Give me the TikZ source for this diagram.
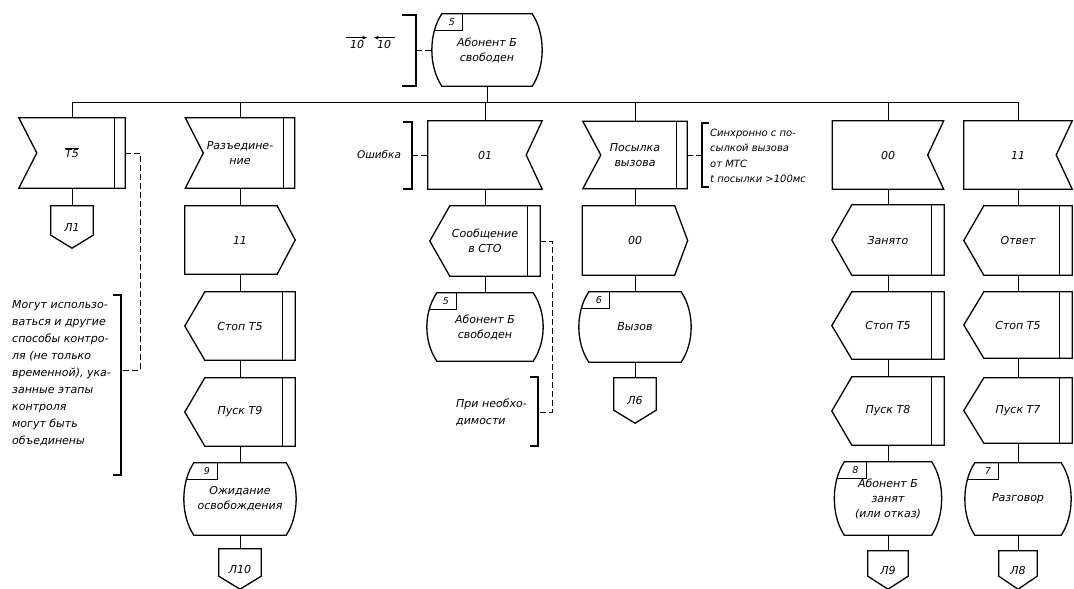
\documentclass[tikz,border=0pt]{standalone}
\usepackage{fontspec}
\setmainfont{DejaVu Sans}
\usetikzlibrary{calc,arrows.meta}
\newcommand\InL[1]{\draw[shp] (#1.north west) -- (#1.north east) -- (#1.south east) -- (#1.south west) -- ($(#1.west)+(18,0)$) -- cycle;
 \draw[shp] ($(#1.north east)+(-11,0)$) -- ($(#1.south east)+(-11,0)$);}
\newcommand\InR[1]{\draw[shp] (#1.north west) -- (#1.north east) -- ($(#1.east)+(-16,0)$) -- (#1.south east) -- (#1.south west) -- cycle;}
\newcommand\OutR[2]{\draw[shp] (#2.north west) -- ($(#2.north east)+(-#1,0)$) -- (#2.east) -- ($(#2.south east)+(-#1,0)$) -- (#2.south west) -- cycle;}
\newcommand\OutL[1]{\draw[shp] (#1.west) -- ($(#1.north west)+(20,0)$) -- (#1.north east) -- (#1.south east) -- ($(#1.south west)+(20,0)$) -- cycle;
 \draw[shp] ($(#1.north east)+(-13,0)$) -- ($(#1.south east)+(-13,0)$);}
\newcommand\StatePath[1]{($(#1.north west)+(10,0)$) -- ($(#1.north east)+(-10,0)$) .. controls ($(#1.north east)+(3.3,20)$) and ($(#1.south east)+(3.3,-20)$) .. ($(#1.south east)+(-10,0)$) -- ($(#1.south west)+(10,0)$) .. controls ($(#1.south west)+(-3.3,-20)$) and ($(#1.north west)+(-3.3,20)$) .. ($(#1.north west)+(10,0)$) -- cycle}
\newcommand\State[3]{%
 \begin{scope}\clip \StatePath{#1}; \draw[shp] ($(#1.north west)+(-5,-5)$) rectangle ($(#1.north west)+(#3,17)$);\end{scope}
 \draw[shp] \StatePath{#1};
 \node[num] (#1num) at ($(#1.north west)+(#3-11,8.5)$) {#2};}
\newcommand\Conn[1]{\draw[shp] (#1.north west) -- (#1.north east) -- ($(#1.south east)+(0,-13)$) -- (#1.south) -- ($(#1.south west)+(0,-13)$) -- cycle;}
\begin{document}
\begin{tikzpicture}[x=1pt,y=-1pt,
  shp/.style={line width=1.3pt, line join=miter},
  con/.style={line width=1pt},
  dsh/.style={line width=1pt, dash pattern=on 6pt off 3pt},
  sym/.style={inner sep=0pt, align=center, font=\itshape\fontsize{11}{15}\selectfont},
  num/.style={inner sep=0pt, font=\itshape\fontsize{9.5}{10}\selectfont},
  note/.style={inner sep=0pt, align=left, font=\itshape\fontsize{11}{17}\selectfont},
  ovarr/.style={line width=0.9pt, -{Stealth[length=5pt,width=3.5pt]}},
  sz/.style 2 args={minimum width=#1, minimum height=#2},
]
\useasboundingbox (0,0) rectangle (1074,589);
\coordinate (bus) at (0,102);

% top state
\node[sym, sz={110pt}{72pt}] (s0) at (487,50) {Абонент Б\\свободен};
\State{s0}{5}{31}
\node[sym] (lab0a) at (357,44) {10};
\node[sym] (lab0b) at (384,44) {10};
\draw[ovarr] ($(lab0a.north west)+(-4,-2)$) -- ($(lab0a.north east)+(3,-2)$);
\draw[ovarr] ($(lab0b.north east)+(4,-2)$) -- ($(lab0b.north west)+(-3,-2)$);
\coordinate (b0) at (416,50);
\draw[shp] (402,15) -- (416,15) -- (416,86) -- (402,86);
\draw[dsh] (b0) -- (s0.west);
\draw[con] (s0.south) -- (s0.south |- bus);

% column 1
\node[sym, sz={106pt}{70pt}] (i1) at (72,153) {$\overline{\mbox{\itshape T5}}$};
\InL{i1}
\node[sym, sz={42pt}{42pt}] (j1) at (72,227) {Л1};
\Conn{j1}
\draw[con] (i1.south) -- (j1.north);
\coordinate (b1) at (121,370);
\draw[shp] (113,295) -- (121,295) -- (121,475) -- (113,475);
\draw[dsh] (i1.east) -- ++(15,0) |- (b1);
\node[note, anchor=north west] (n1) at (12,300) {Могут использо-\\ваться и другие\\способы контро-\\ля (не только\\временной), ука-\\занные этапы\\контроля\\могут быть\\объединены};

% column 2
\node[sym, sz={109pt}{70pt}] (i2) at (240,153) {Разъедине-\\ние};
\InL{i2}
\node[sym, sz={110pt}{68pt}] (o2) at (240,240) {11};
\OutR{18}{o2}
\node[sym, sz={110pt}{68pt}] (o3) at (240,326) {Стоп T5};
\OutL{o3}
\node[sym, sz={110pt}{68pt}] (o4) at (240,412) {Пуск T9};
\OutL{o4}
\node[sym, sz={112pt}{72pt}] (s9) at (240,499) {Ожидание\\освобождения};
\State{s9}{9}{34}
\node[sym, sz={42pt}{40pt}] (j10) at (240,569) {Л10};
\Conn{j10}
\draw[con] (i2.south) -- (o2.north);
\draw[con] (o2.south) -- (o3.north);
\draw[con] (o3.south) -- (o4.north);
\draw[con] (o4.south) -- (s9.north);
\draw[con] (s9.south) -- (j10.north);

% column 3
\node[sym, sz={114pt}{68pt}] (i3) at (485,155) {01};
\InR{i3}
\coordinate (b2) at (412,155);
\draw[shp] (403,122) -- (412,122) -- (412,189) -- (403,189);
\draw[dsh] (b2) -- (i3.west);
\node[sym, font=\itshape\fontsize{10.5}{13}\selectfont] (t2) at (379,154) {Ошибка};
\node[sym, sz={110pt}{70pt}] (o5) at (485,241) {Сообщение\\в СТО};
\OutL{o5}
\node[sym, sz={116pt}{68pt}] (s5) at (485,327) {Абонент Б\\свободен};
\State{s5}{5}{30}
\coordinate (b3) at (538,412);
\draw[shp] (530,377) -- (538,377) -- (538,446) -- (530,446);
\draw[dsh] (o5.east) -- ++(12,0) |- (b3);
\node[note, anchor=west, font=\itshape\fontsize{11}{17}\selectfont] (t3) at (456,412) {При необхо-\\димости};
\draw[con] (i3.south) -- (o5.north);
\draw[con] (o5.south) -- (s5.north);

% column 4
\node[sym, sz={104pt}{67pt}] (i4) at (635,155) {Посылка\\вызова};
\InL{i4}
\coordinate (b4) at (702,155);
\draw[shp] (709,123) -- (702,123) -- (702,187) -- (709,187);
\draw[dsh] (i4.east) -- (b4);
\node[note, anchor=west, font=\itshape\fontsize{10}{15.5}\selectfont] (t4) at (710,156) {Синхронно с по-\\сылкой вызова\\от МТС\\t посылки >100мс};
\node[sym, sz={105pt}{69pt}] (o6) at (635,240.5) {00};
\OutR{13}{o6}
\node[sym, sz={112pt}{70pt}] (s6) at (635,327) {Вызов};
\State{s6}{6}{31}
\node[sym, sz={42pt}{45pt}] (j6) at (635,400.5) {Л6};
\Conn{j6}
\draw[con] (i4.south) -- (o6.north);
\draw[con] (o6.south) -- (s6.north);
\draw[con] (s6.south) -- (j6.north);

% column 5
\node[sym, sz={111pt}{68pt}] (i5) at (888,155) {00};
\InR{i5}
\node[sym, sz={112pt}{70pt}] (o7) at (888,240) {Занято};
\OutL{o7}
\node[sym, sz={112pt}{67pt}] (o8) at (888,325.5) {Стоп T5};
\OutL{o8}
\node[sym, sz={112pt}{68pt}] (o9) at (888,411) {Пуск T8};
\OutL{o9}
\node[sym, sz={107pt}{73pt}] (s8) at (888,498.5) {Абонент Б\\занят\\(или отказ)};
\State{s8}{8}{32}
\node[sym, sz={40pt}{38pt}] (j9) at (888,570) {Л9};
\Conn{j9}
\draw[con] (i5.south) -- (o7.north);
\draw[con] (o7.south) -- (o8.north);
\draw[con] (o8.south) -- (o9.north);
\draw[con] (o9.south) -- (s8.north);
\draw[con] (s8.south) -- (j9.north);

% column 6
\node[sym, sz={108pt}{68pt}] (i6) at (1018,155) {11};
\InR{i6}
\node[sym, sz={108pt}{69pt}] (o10) at (1018,240.5) {Ответ};
\OutL{o10}
\node[sym, sz={108pt}{66pt}] (o11) at (1018,325) {Стоп T5};
\OutL{o11}
\node[sym, sz={108pt}{65pt}] (o12) at (1018,410.5) {Пуск T7};
\OutL{o12}
\node[sym, sz={106pt}{72pt}] (s7) at (1018,499) {Разговор};
\State{s7}{7}{34}
\node[sym, sz={38pt}{38pt}] (j8) at (1018,570) {Л8};
\Conn{j8}
\draw[con] (i6.south) -- (o10.north);
\draw[con] (o10.south) -- (o11.north);
\draw[con] (o11.south) -- (o12.north);
\draw[con] (o12.south) -- (s7.north);
\draw[con] (s7.south) -- (j8.north);

% bus
\draw[con] (i1.north |- bus) -- (i6.north |- bus);
\foreach \n in {i1,i2,i3,i4,i5,i6} \draw[con] (\n.north) -- (\n.north |- bus);
\end{tikzpicture}
\end{document}
